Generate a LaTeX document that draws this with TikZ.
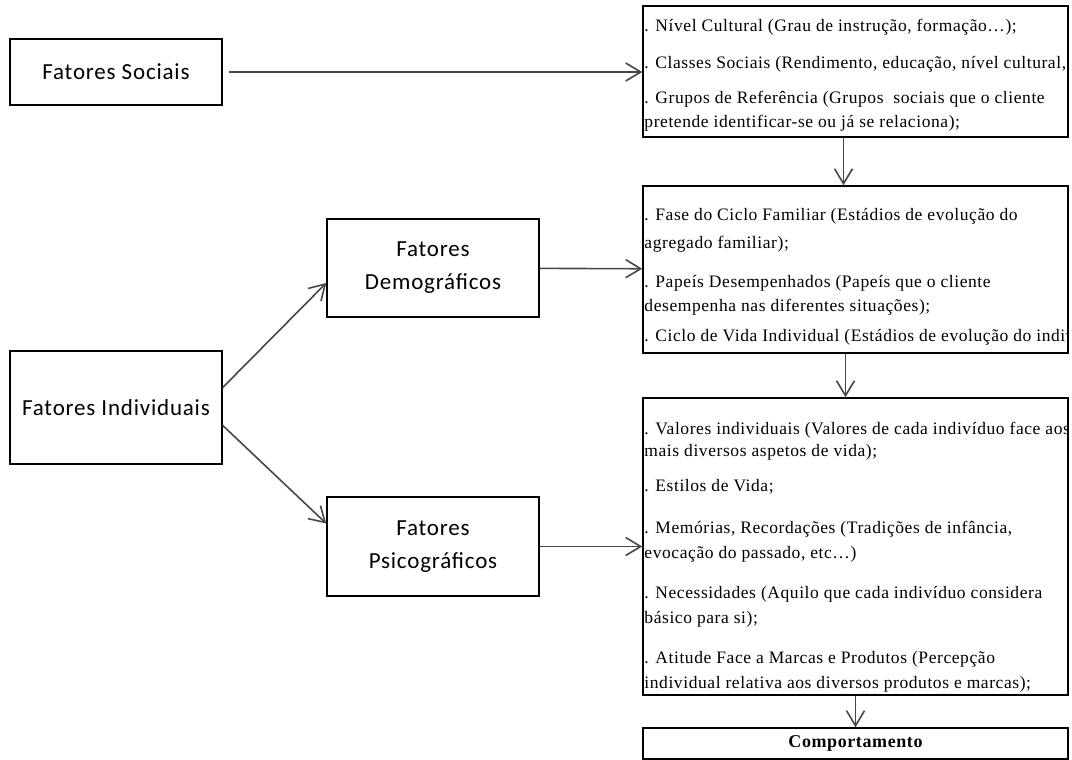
\documentclass[tikz,border=0pt]{standalone}
\usepackage{fontspec}
\newfontfamily\factorfont{Carlito}[LetterSpace=3.5]
\newfontfamily\listfont{Liberation Serif}[LetterSpace=3.3]
\usetikzlibrary{arrows.meta, positioning}

\begin{document}
\begin{tikzpicture}[
    x=1pt, y=-1pt,
    factor/.style={draw, line width=1.5pt, rectangle, minimum width=212pt, align=center, inner sep=0pt, font=\fontsize{23}{33}\selectfont\factorfont},
    listbox/.style={draw, line width=1.5pt, rectangle, minimum width=425pt, inner sep=0pt},
    listtext/.style={anchor=north west, align=left, inner xsep=2pt, inner ysep=0pt, font=\fontsize{17.5}{24}\selectfont\listfont},
    arrow/.style={-{Straight Barb[length=15pt, width=18pt]}, line width=1.6pt, draw=black!72}
]
    \useasboundingbox (0,0) rectangle (1072,760);

    % Left column
    \node[factor, minimum height=66pt] (soc) at (116,72) {Fatores Sociais};
    \node[factor, minimum height=113pt] (ind) at (116,407.5) {Fatores Individuais};
    \node[factor, minimum height=98pt] (dem) at (433,268) {Fatores\\Demográficos};
    \node[factor, minimum height=99pt] (psi) at (433,546.5) {Fatores\\Psicográficos};

    % Right column
    \node[listbox, minimum height=131pt] (grupos) at (855.5,71.5) {};
    \node[listbox, minimum height=167pt] (familia) at (855.5,269.5) {};
    \node[listbox, minimum height=297pt] (psique) at (855.5,546.5) {};
    \node[listbox, minimum height=31pt, font=\fontsize{18}{18}\selectfont\listfont\bfseries] (comp) at (855.5,743.5) {Comportamento};

    \begin{scope}
        \clip (grupos.south west) rectangle (grupos.north east);
        \node[listtext, yshift=-13.5pt] (gruposlist) at (grupos.north west) {%
            . Nível Cultural (Grau de instrução, formação…);\\[13pt]
            . Classes Sociais (Rendimento, educação, nível cultural,.\\[11pt]
            . Grupos de Referência (Grupos\ \ sociais que o cliente\\
            pretende identificar-se ou já se relaciona);};
    \end{scope}
    \begin{scope}
        \clip (familia.south west) rectangle (familia.north east);
        \node[listtext, yshift=-22.5pt] (familialist) at (familia.north west) {%
            . Fase do Ciclo Familiar (Estádios de evolução do\\[4pt]
            agregado familiar);\\[15pt]
            . Papeís Desempenhados (Papeís que o cliente\\
            desempenha nas diferentes situações);\\[6pt]
            . Ciclo de Vida Individual (Estádios de evolução do indiv};
    \end{scope}
    \begin{scope}
        \clip (psique.south west) rectangle (psique.north east);
        \node[listtext, yshift=-24.5pt] (psiquelist) at (psique.north west) {%
            . Valores individuais (Valores de cada indivíduo face aos\\[-2pt]
            mais diversos aspetos de vida);\\[11pt]
            . Estilos de Vida;\\[18pt]
            . Memórias, Recordações (Tradições de infância,\\[1pt]
            evocação do passado, etc…)\\[16pt]
            . Necessidades (Aquilo que cada indivíduo considera\\[1pt]
            básico para si);\\[16pt]
            . Atitude Face a Marcas e Produtos (Percepção\\[1pt]
            individual relativa aos diversos produtos e marcas);};
    \end{scope}

    % Arrows
    \draw[arrow, shorten <=6pt] (soc.east) -- (soc.east -| grupos.west);
    \draw[arrow] ([yshift=20pt]ind.east) -- ([yshift=-15pt]dem.west);
    \draw[arrow] ([yshift=-18pt]ind.east) -- ([yshift=23pt]psi.west);
    \draw[arrow] (dem) -- (familia);
    \draw[arrow] (psi) -- (psique);
    \draw[arrow] ([xshift=-12pt]grupos.south) -- ([xshift=-12pt]familia.north);
    \draw[arrow] ([xshift=-10pt]familia.south) -- ([xshift=-10pt]psique.north);
    \draw[arrow] (psique) -- (comp);
\end{tikzpicture}
\end{document}
